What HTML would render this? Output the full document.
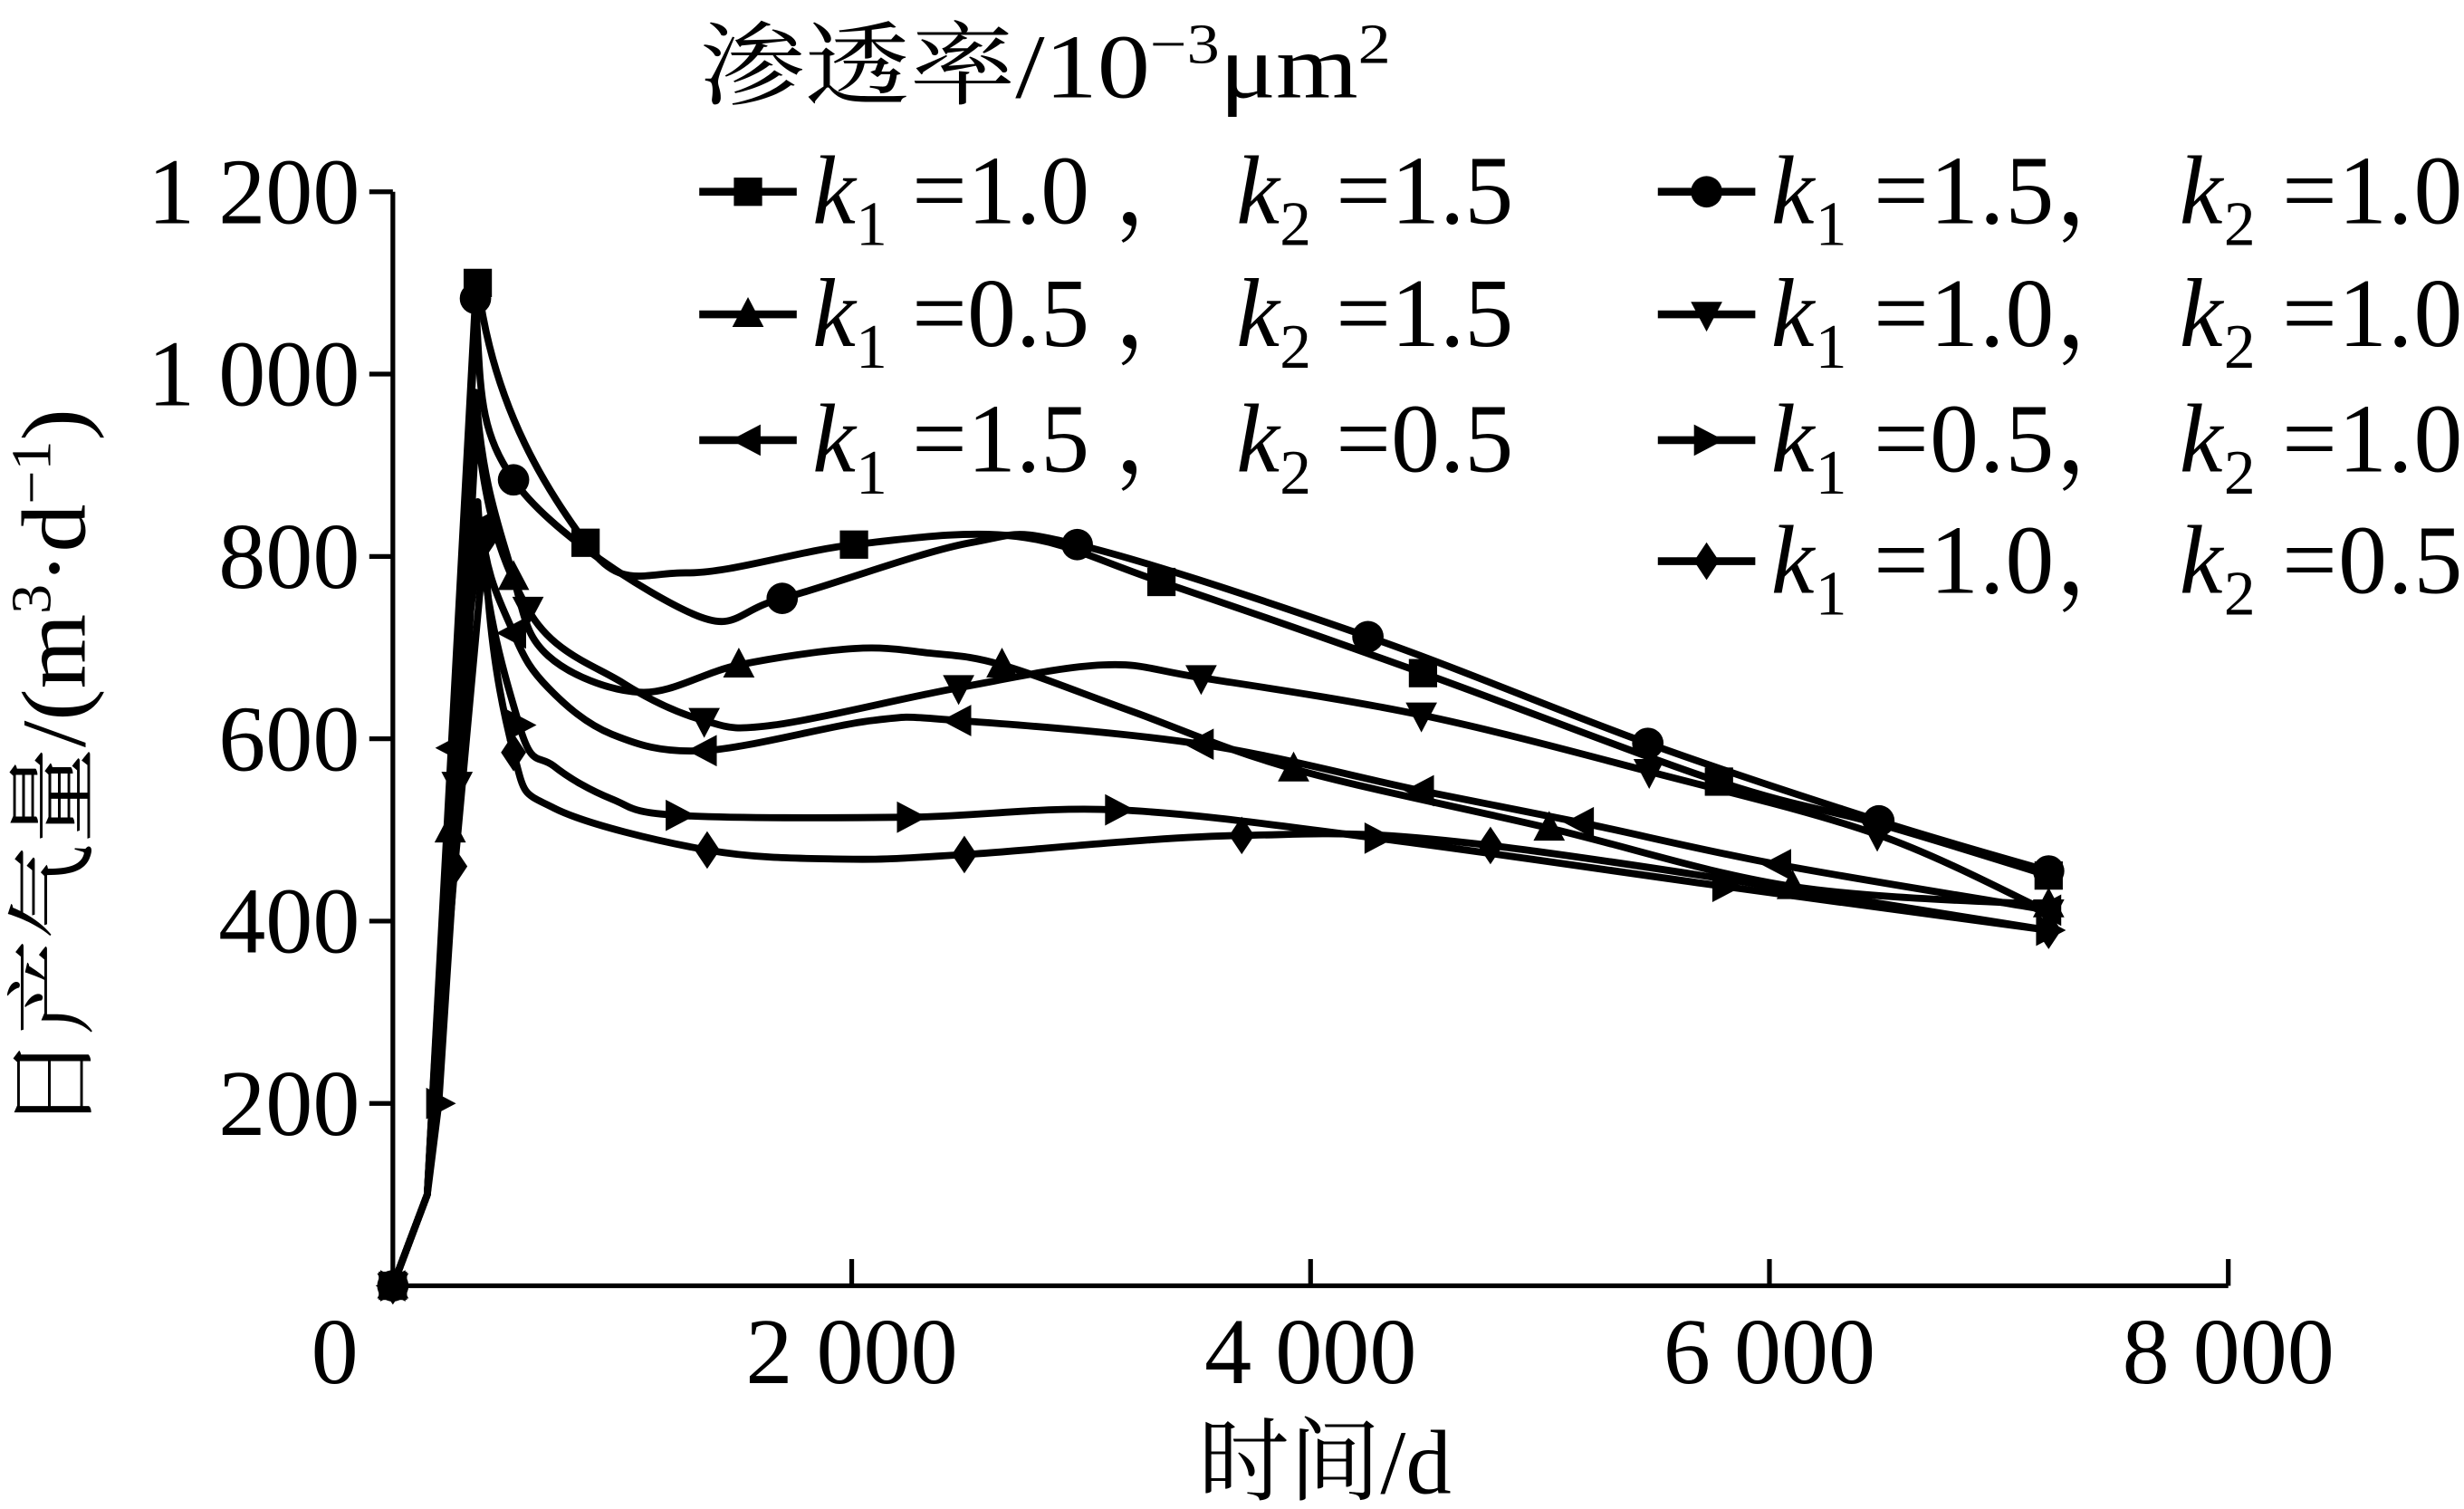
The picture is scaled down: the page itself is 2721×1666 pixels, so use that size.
<!DOCTYPE html>
<html><head><meta charset="utf-8"><style>
html,body{margin:0;padding:0;background:#fff;}
svg{display:block;}
text{font-family:"Liberation Serif","Noto Serif CJK SC",serif;fill:#000;}
</style></head><body>
<svg id="chart" width="2721" height="1666" viewBox="0 0 1568 960" preserveAspectRatio="none" xmlns="http://www.w3.org/2000/svg">
<g id="axes"></g>
<g id="series"></g>
<g id="legend">
<text x="445" y="62" font-size="58" textLength="440" lengthAdjust="spacingAndGlyphs">渗透率/10<tspan dy="-22" font-size="36">−3</tspan><tspan dy="22">μm</tspan><tspan dy="-22" font-size="36">2</tspan></text>
</g>
<text x="843" y="950" font-size="58" text-anchor="middle">时间/d</text>
<text transform="translate(54,490) rotate(-90)" font-size="58" text-anchor="middle" textLength="460" lengthAdjust="spacingAndGlyphs">日产气量/(m<tspan dy="-22" font-size="36">3</tspan><tspan dy="22">·d</tspan><tspan dy="-22" font-size="36">−1</tspan><tspan dy="22">)</tspan></text>
</svg>
<script>
const xTicks=[0,2000,4000,6000,8000];
const xTickLabels=["0","2 000","4 000","6 000","8 000"];
const yTicks=[200,400,600,800,1000,1200];
const yTickLabels=["200","400","600","800","1 000","1 200"];
const seriesNames=["k1=1.0,k2=1.5","k1=1.5,k2=1.0","k1=0.5,k2=1.5","k1=1.0,k2=1.0","k1=1.5,k2=0.5","k1=0.5,k2=1.0","k1=1.0,k2=0.5"];
const markers=["square","circle","up","down","left","right","diamond"];
const sqT=[0,150,370,840,1280,2010,2720,3350,4490,5780,6500,7217];
const sqV=[0,100,1100,815,782,813,822,772,672,553,505,450];
const sqM=[1,0,1,1,0,1,0,1,1,1,0,1];
const ciT=[0,150,360,526,1307,1697,2516,2983,4250,5470,6477,7217];
const ciV=[0,100,1083,884,737,754,815,813,712,595,510,455];
const ciM=[1,0,1,1,0,1,0,1,1,1,1,1];
const upT=[0,150,250,362,526,677,1080,1508,2012,2340,2655,3222,3926,5040,6100,7217];
const upV=[0,100,500,980,777,691,651,681,699,694,681,630,567,502,438,418];
const upM=[1,0,1,0,1,0,0,1,0,0,1,0,1,1,1,1];
const dnT=[0,150,280,365,589,1004,1357,1660,2466,3096,3523,4483,5476,6470,7217];
const dnV=[0,100,550,950,742,661,620,615,656,681,667,626,564,495,410];
const dnM=[1,0,1,0,1,0,1,0,1,0,1,1,1,1,1];
const lfT=[0,150,260,387,526,677,954,1357,2088,2466,3523,4483,5180,6040,7217];
const lfV=[0,100,590,833,716,656,605,587,620,620,594,543,508,462,412];
const lfM=[1,0,1,1,1,0,0,1,0,1,1,1,1,1,1];
const rtT=[0,150,200,370,551,702,954,1244,2252,3159,4290,5806,7217];
const rtV=[0,100,200,860,615,570,534,516,514,522,491,438,390];
const rtM=[1,0,1,0,1,0,0,1,1,1,1,1,1];
const diT=[0,150,270,400,526,702,1370,1962,2491,3700,4784,7217];
const diV=[0,100,460,818,585,524,478,468,473,494,483,390];
const diM=[1,0,1,1,1,0,1,0,1,1,1,1];
const allT=[sqT,ciT,upT,dnT,lfT,rtT,diT],allV=[sqV,ciV,upV,dnV,lfV,rtV,diV],allM=[sqM,ciM,upM,dnM,lfM,rtM,diM];
const legendLabels=[["1.0","1.5"],["1.5","1.0"],["0.5","1.5"],["1.0","1.0"],["1.5","0.5"],["0.5","1.0"],["1.0","0.5"]];

const NS="http://www.w3.org/2000/svg";
const X0=250,X1=1418,Y0=818,Y1=122;
function sx(t){return X0+(t/8000)*(X1-X0);}
function sy(v){return Y0-(v/1200)*(Y0-Y1);}
function mk(tag,attrs,parent){const e=document.createElementNS(NS,tag);for(const k in attrs)e.setAttribute(k,attrs[k]);parent.appendChild(e);return e;}
const axes=document.getElementById('axes');
let a=mk('line',{x1:X0,y1:Y0,x2:X0,y2:Y1,stroke:'#000','stroke-width':3},axes);


a=mk('line',{x1:X0,y1:Y0,x2:X1,y2:Y0,stroke:'#000','stroke-width':3},axes);


yTicks.forEach((v,i)=>{
  const tk=mk('line',{x1:X0-15,y1:sy(v),x2:X0,y2:sy(v),stroke:'#000','stroke-width':3},axes);
  
  
  const tx=mk('text',{x:229,y:sy(v)+20,'font-size':60,'text-anchor':'end'},axes);
  tx.textContent=yTickLabels[i];
  
  
});
xTicks.forEach((t,i)=>{
  if(i>0){const tk=mk('line',{x1:sx(t),y1:Y0,x2:sx(t),y2:Y0-17,stroke:'#000','stroke-width':3},axes);
  
  }
  const tx=mk('text',{x:i==0?213:sx(t),y:880,'font-size':60,'text-anchor':'middle'},axes);
  tx.textContent=xTickLabels[i];
  
  
});
function marker(type,x,y,parent,s){
  s=s||9;let e;
  if(type==='square')e=mk('rect',{x:x-s,y:y-s,width:2*s,height:2*s,fill:'#000'},parent);
  else if(type==='circle')e=mk('circle',{cx:x,cy:y,r:s+1,fill:'#000'},parent);
  else{let p;
    if(type==='up')p=[[x,y-s-2],[x+s+1,y+s-1],[x-s-1,y+s-1]];
    if(type==='down')p=[[x,y+s+2],[x+s+1,y-s+1],[x-s-1,y-s+1]];
    if(type==='left')p=[[x-s-2,y],[x+s-1,y-s-1],[x+s-1,y+s+1]];
    if(type==='right')p=[[x+s+2,y],[x-s+1,y-s-1],[x-s+1,y+s+1]];
    if(type==='diamond')p=[[x,y-s-3],[x+s-1,y],[x,y+s+3],[x-s+1,y]];
    e=mk('polygon',{points:p.map(q=>q.join(',')).join(' '),fill:'#000'},parent);}
  return e;
}
function curve(pts,pk){
  let d='M'+pts[0][0]+','+pts[0][1];
  for(let i=0;i<pts.length-1;i++){
    const p1=pts[i],p2=pts[i+1];
    if(i<pk){d+=' L'+p2[0]+','+p2[1];continue;}
    const p0=pts[Math.max(pk,i-1)],p3=pts[Math.min(pts.length-1,i+2)];
    let c1=[p1[0]+(p2[0]-p0[0])/6,p1[1]+(p2[1]-p0[1])/6];
    if(i===pk)c1=[p1[0]+(p2[0]-p1[0])*0.15,p1[1]+(p2[1]-p1[1])*0.5];
    const c2=[p2[0]-(p3[0]-p1[0])/6,p2[1]-(p3[1]-p1[1])/6];
    d+=' C'+c1+' '+c2+' '+p2;
  }
  return d;
}
const sg=document.getElementById('series');
allT.forEach((T,si)=>{
  const g=mk('g',{},sg);
  
  
  const V=allV[si];
  let pk=0;V.forEach((v,i)=>{if(v>V[pk])pk=i;});
  const pts=T.map((t,i)=>[sx(t),sy(V[i])]);
  const p=mk('path',{d:curve(pts,pk),fill:'none',stroke:'#000','stroke-width':4.5,'stroke-linejoin':'round'},g);
  
  
  pts.forEach((q,i)=>{if(allM[si][i]){const m=marker(markers[si],q[0],q[1],g);
    
    }});
});
const lg=document.getElementById('legend');
const pos=[[445,122],[1055,122],[445,200],[1055,200],[445,280],[1055,280],[1055,357]];
legendLabels.forEach((lb,i)=>{
  const [x,y]=pos[i];
  const g=mk('g',{},lg);
  
  
  mk('line',{x1:x,y1:y,x2:x+62,y2:y,stroke:'#000','stroke-width':5},g);
  marker(markers[i],x+31,y,g,9);
  const t=mk('text',{x:x+72,y:y+20,'font-size':62,textLength:(x<1000?446:440),lengthAdjust:'spacing'},g);
  const sep=(x<1000)?' ，':'，';
  t.innerHTML='<tspan font-style="italic">k</tspan><tspan font-size="40" dy="14">1</tspan><tspan dy="-14"> ='+lb[0]+sep+' </tspan><tspan font-style="italic">k</tspan><tspan font-size="40" dy="14">2</tspan><tspan dy="-14"> ='+lb[1]+'</tspan>';
});
</script>
</body></html>
